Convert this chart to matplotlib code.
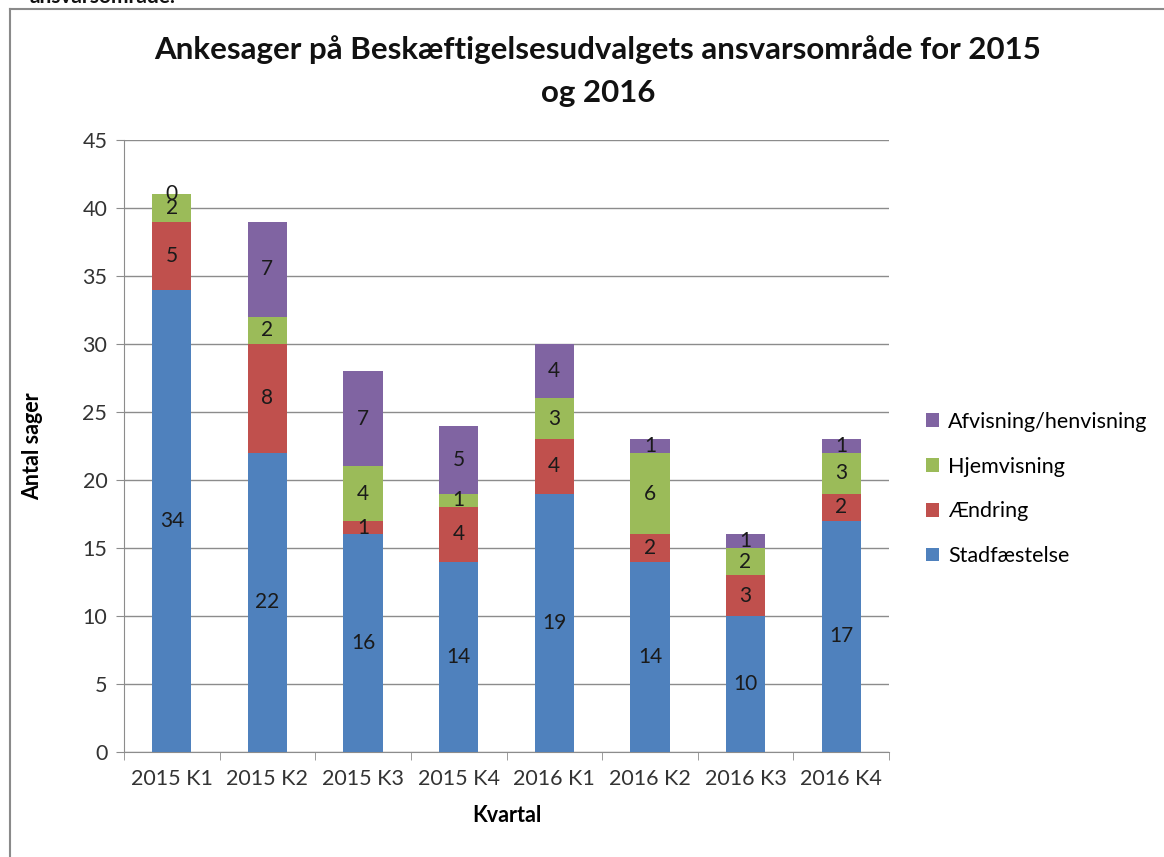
import matplotlib
matplotlib.use("Agg")
import matplotlib.pyplot as plt
from matplotlib.lines import Line2D
import numpy as np

categories = ["2015 K1", "2015 K2", "2015 K3", "2015 K4", "2016 K1", "2016 K2", "2016 K3", "2016 K4"]
stadfaestelse = [34, 22, 16, 14, 19, 14, 10, 17]
aendring = [5, 8, 1, 4, 4, 2, 3, 2]
hjemvisning = [2, 2, 4, 1, 3, 6, 2, 3]
afvisning = [0, 7, 7, 5, 4, 1, 1, 1]
series_names = ["Stadfæstelse", "Ændring", "Hjemvisning", "Afvisning/henvisning"]
colors = ["#4F81BD", "#C0504D", "#9BBB59", "#8064A2"]

plt.rcParams['font.family'] = ['Lato', 'DejaVu Sans']

fig = plt.figure(figsize=(11.64, 8.57), dpi=100)
ax = fig.add_axes([124/1164, 1-752/857, (889-124)/1164, (752-140)/857])

x = np.arange(len(categories))
bottom = np.zeros(len(categories))
handles = []
for vals, name, c in zip([stadfaestelse, aendring, hjemvisning, afvisning], series_names, colors):
    vals = np.array(vals, dtype=float)
    b = ax.bar(x, vals, 0.41, bottom=bottom, color=c, label=name, zorder=3)
    handles.append(b)
    for xi, v, bt in zip(x, vals, bottom):
        ax.text(xi, bt + v/2, f"{int(v)}", ha='center', va='center', fontsize=15, color='#1a1a1a', zorder=4)
    bottom += vals

ax.set_xlim(-0.5, len(categories)-0.5)
ax.set_ylim(0, 45)
ax.set_yticks(np.arange(0, 46, 5))
ax.yaxis.grid(True, color='#8c8c8c', linewidth=1, zorder=0)
ax.set_axisbelow(True)
for s in ['top', 'right']:
    ax.spines[s].set_visible(False)
ax.spines['left'].set_color('#8c8c8c')
ax.spines['bottom'].set_color('#8c8c8c')
ax.set_xticks(x)
ax.set_xticklabels(categories)
ax.set_xticks(np.arange(-0.5, len(categories), 1), minor=True)
ax.tick_params(axis='x', which='major', length=0, pad=12, labelsize=15.5, labelcolor='#333333')
ax.tick_params(axis='x', which='minor', length=6, color='#8c8c8c', direction='out')
ax.tick_params(axis='y', length=6, color='#8c8c8c', labelsize=15.5, labelcolor='#333333', pad=6)

ax.set_xlabel("Kvartal", fontsize=15.5, fontweight='bold', labelpad=12)
ax.set_ylabel("Antal sager", fontsize=15.5, fontweight='bold', labelpad=28)

fig.text(598/1164, 1-50/857, "Ankesager på Beskæftigelsesudvalgets ansvarsområde for 2015",
         ha='center', va='center', fontsize=22.5, fontweight='bold', color='#111111')
fig.text(598/1164, 1-93/857, "og 2016",
         ha='center', va='center', fontsize=22.5, fontweight='bold', color='#111111')

leg = fig.legend(handles[::-1], series_names[::-1], loc='center left', bbox_to_anchor=(920/1164, 1-489/857),
                 frameon=False, fontsize=15.5, handlelength=0.6, handleheight=0.6, labelspacing=1.15,
                 handletextpad=0.4, borderaxespad=0, borderpad=0.3)

# outer frame
fig.add_artist(Line2D([10/1164, 10/1164], [0, 1-9/857], transform=fig.transFigure, color='#8a8a8a', linewidth=1.5))
fig.add_artist(Line2D([10/1164, 1], [1-9/857, 1-9/857], transform=fig.transFigure, color='#8a8a8a', linewidth=1.5))
fig.text(30/1164, 1-3/857, "ansvarsområde.", ha='left', va='baseline', fontsize=15, fontweight='bold', color='#111111')

fig.savefig("out.png", dpi=100)
